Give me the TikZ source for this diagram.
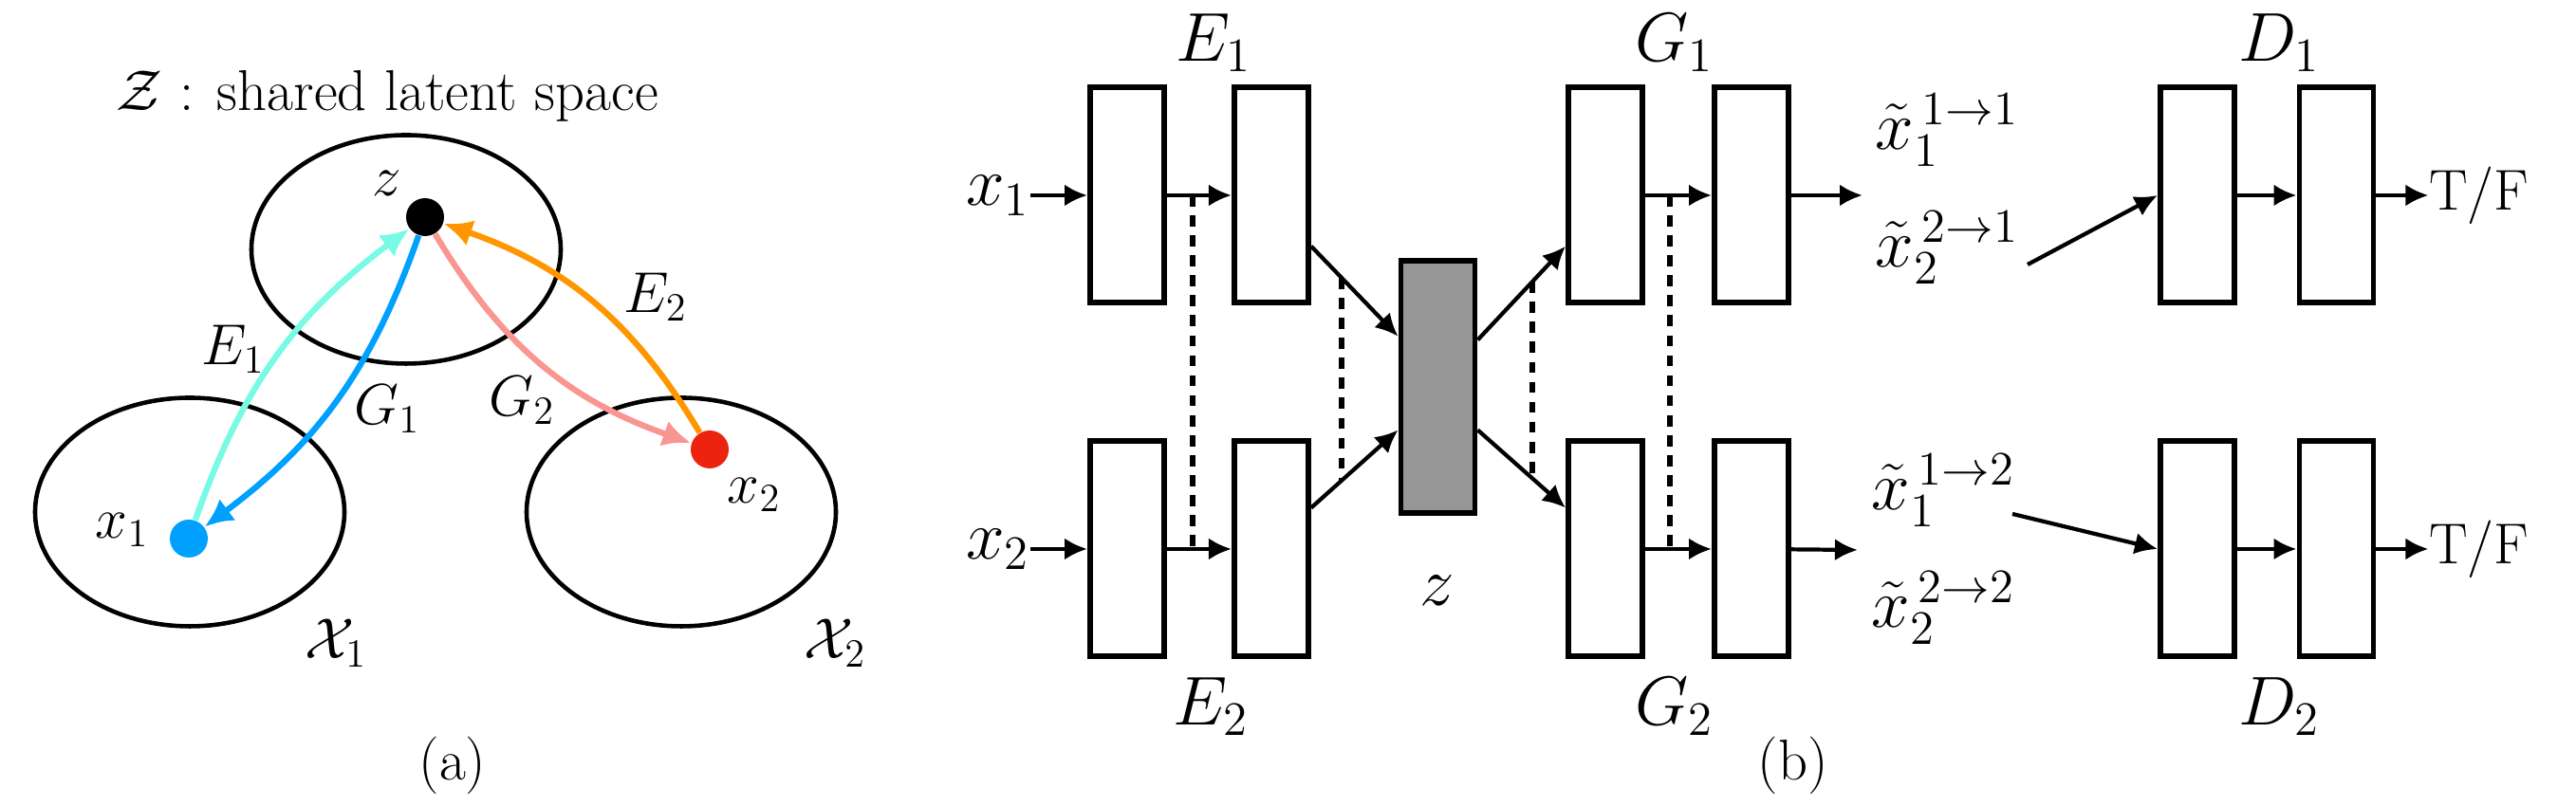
\documentclass[tikz,border=0pt]{standalone}
\usepackage{amsmath,amssymb}
\usepackage{tikz}
\usetikzlibrary{positioning,arrows.meta,shapes.geometric,calc}
\definecolor{encone}{RGB}{120,250,228}
\definecolor{genone}{RGB}{0,160,255}
\definecolor{enctwo}{RGB}{255,150,0}
\definecolor{gentwo}{RGB}{250,150,145}
\definecolor{dotred}{RGB}{235,35,15}
\definecolor{zgray}{RGB}{150,150,150}
\tikzset{
  blob/.style={ellipse,draw,line width=1.3pt,minimum width=3.26cm,minimum height=2.41cm},
  dot/.style={circle,fill,minimum size=4mm,inner sep=0pt},
  maparrow/.style={line width=1.8pt,-{Latex[length=3mm,width=2.8mm]}},
  unitbox/.style={rectangle,draw,line width=1.7pt,minimum width=0.78cm,minimum height=2.27cm},
  latent/.style={unitbox,fill=zgray,minimum height=2.66cm},
  feed/.style={line width=1.2pt,-{Latex[length=2.4mm,width=2.3mm]}},
  tie/.style={line width=1.6pt,dash pattern=on 3.3pt off 2.7pt},
  lab/.style={inner sep=0pt},
  big/.style={font=\huge}
}

\begin{document}
\begin{tikzpicture}[font=\LARGE]
  \useasboundingbox (0,0) rectangle (27.15,8.5);
  % (a) shared latent space
  \node (title) at (4.08,7.49) {$\mathcal{Z}$ : shared latent space};
  \node[blob] (zset) at (4.28,5.87) {};
  \node[blob] (xset1) at (2.00,3.10) {};
  \node[blob] (xset2) at (7.18,3.10) {};
  \node[dot] (pz) at (4.48,6.21) {};
  \node[dot,genone] (px1) at (1.99,2.82) {};
  \node[dot,dotred] (px2) at (7.48,3.76) {};
  \node (lz) at (4.08,6.57) {$z$};
  \node (lx1) at (1.29,2.91) {$x_1$};
  \node (lx2) at (7.95,3.28) {$x_2$};
  \node (le1) at (2.46,4.82) {$E_1$};
  \node (lg1) at (4.08,4.19) {$G_1$};
  \node (lg2) at (5.50,4.28) {$G_2$};
  \node (le2) at (6.91,5.37) {$E_2$};
  \node (lxs1) at (3.54,1.72) {$\mathcal{X}_1$};
  \node (lxs2) at (8.80,1.72) {$\mathcal{X}_2$};
  \node (capa) at (4.77,0.43) {(a)};
  \draw[maparrow,encone] (px1) to[bend left=17] (pz);
  \draw[maparrow,genone] (pz) to[bend left=17] (px1);
  \draw[maparrow,gentwo] (pz) to[bend right=20] (px2);
  \draw[maparrow,enctwo] (px2) to[bend right=20] (pz);

  % (b) encoders, shared z, generators, discriminators
  \node[unitbox] (e11) at (11.88,6.44) {};
  \node[unitbox,right=0.68cm of e11] (e12) {};
  \node[unitbox,below=1.40cm of e11] (e21) {};
  \node[unitbox,right=0.68cm of e21] (e22) {};
  \node[latent] (zz) at (15.155,4.415) {};
  \node[unitbox] (g11) at (16.92,6.44) {};
  \node[unitbox,right=0.70cm of g11] (g12) {};
  \node[unitbox,below=1.40cm of g11] (g21) {};
  \node[unitbox,right=0.70cm of g21] (g22) {};
  \node[unitbox] (d11) at (23.16,6.44) {};
  \node[unitbox,right=0.625cm of d11] (d12) {};
  \node[unitbox,below=1.40cm of d11] (d21) {};
  \node[unitbox,right=0.625cm of d21] (d22) {};

  \node[lab,big,left=0.6cm of e11] (xin1) {$x_1$};
  \node[lab,big,left=0.6cm of e21] (xin2) {$x_2$};
  \node[big] (le1b) at (12.79,8.05) {$E_1$};
  \node[big] (le2b) at (12.76,1.05) {$E_2$};
  \node[big] (lg1b) at (17.65,8.05) {$G_1$};
  \node[big] (lg2b) at (17.65,1.05) {$G_2$};
  \node[big] (ld1) at (24.02,8.05) {$D_1$};
  \node[big] (ld2) at (24.02,1.05) {$D_2$};
  \node[big] (lzb) at (15.15,2.27) {$z$};
  \node (capb) at (18.90,0.43) {(b)};
  \node[lab,big,anchor=west] (xt11) at (19.76,7.13) {$\tilde{x}_1^{\,1\rightarrow 1}$};
  \node[lab,big,anchor=west] (xt21) at (19.76,5.89) {$\tilde{x}_2^{\,2\rightarrow 1}$};
  \node[lab,big,anchor=west] (xt12) at (19.72,3.33) {$\tilde{x}_1^{\,1\rightarrow 2}$};
  \node[lab,big,anchor=west] (xt22) at (19.72,2.09) {$\tilde{x}_2^{\,2\rightarrow 2}$};
  \node[lab,right=0.55cm of d12] (tf1) {T/F};
  \node[lab,right=0.55cm of d22] (tf2) {T/F};
  \coordinate (o1) at (19.63,6.44);
  \coordinate (o2) at (19.58,2.70);
  \coordinate (s1) at (21.37,5.71);
  \coordinate (s2) at (21.21,3.08);

  \draw[feed] (xin1) -- (e11);
  \draw[feed] (xin2) -- (e21);
  \draw[feed] (e11) -- coordinate[pos=0.4] (h1) (e12);
  \draw[feed] (e21) -- coordinate[pos=0.4] (h2) (e22);
  \draw[feed] (e12.-52) -- coordinate[pos=0.35] (h3) (zz.128);
  \draw[feed] (e22.46) -- coordinate[pos=0.35] (h4) (zz.227);
  \draw[feed] (zz.50) -- coordinate[pos=0.62] (h5) (g11.232);
  \draw[feed] (zz.-47) -- coordinate[pos=0.62] (h6) (g21.134);
  \draw[feed] (g11) -- coordinate[pos=0.37] (h7) (g12);
  \draw[feed] (g21) -- coordinate[pos=0.37] (h8) (g22);
  \draw[feed] (g12) -- (o1);
  \draw[feed] (g22) -- (o2);
  \draw[feed] (s1) -- (d11.west);
  \draw[feed] (s2) -- (d21.west);
  \draw[feed] (d11) -- (d12);
  \draw[feed] (d21) -- (d22);
  \draw[feed] (d12) -- (tf1);
  \draw[feed] (d22) -- (tf2);
  % weight sharing
  \draw[tie] (h1) -- (h2);
  \draw[tie] (h3) -- (h4);
  \draw[tie] (h5) -- (h6);
  \draw[tie] (h7) -- (h8);
\end{tikzpicture}
\end{document}
